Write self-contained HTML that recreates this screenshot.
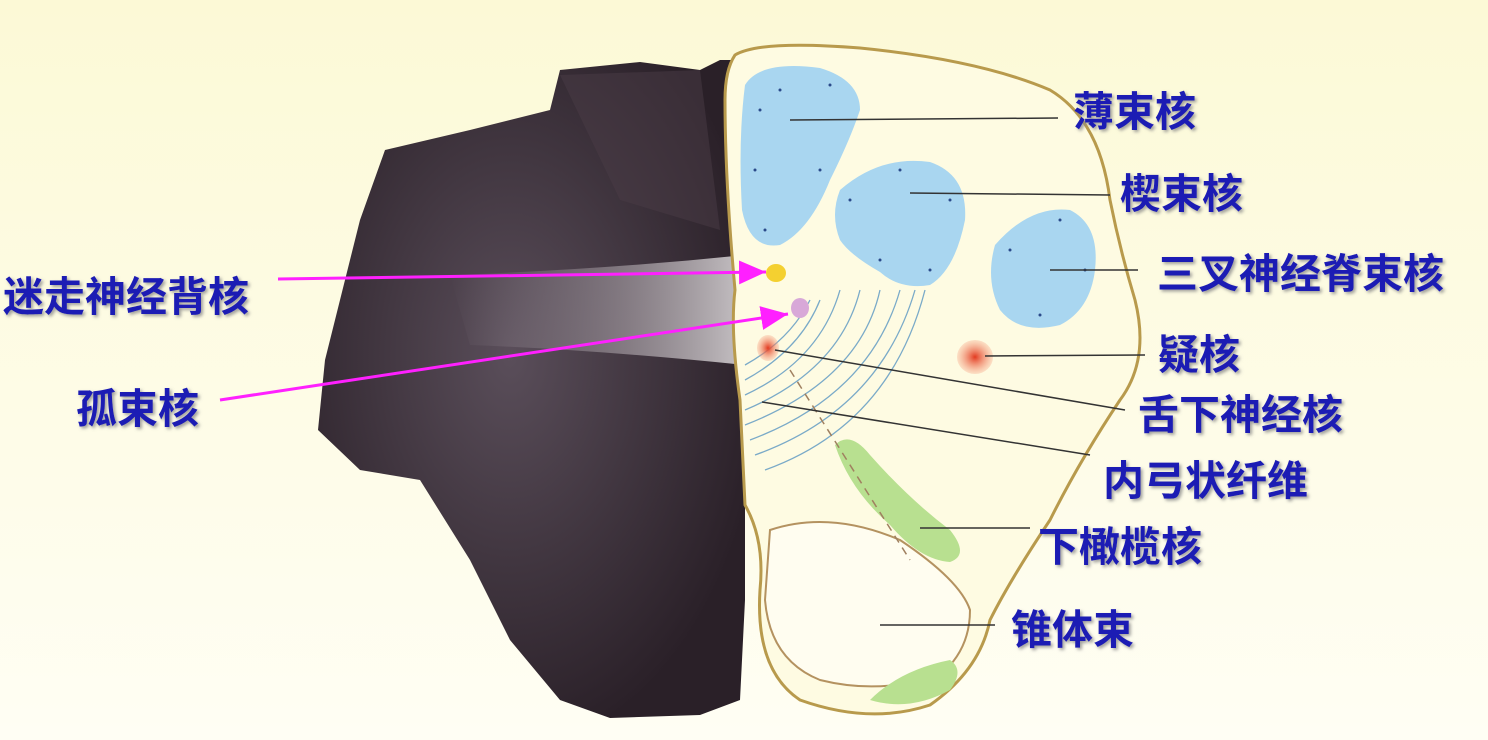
<!DOCTYPE html>
<html><head><meta charset="utf-8"><style>
html,body{margin:0;padding:0;}
body{width:1488px;height:740px;overflow:hidden;background:linear-gradient(#fcf9d6,#fffef4);font-family:"Liberation Sans","Noto Sans CJK SC",sans-serif;}
svg{position:absolute;left:0;top:0}
.lb{font-family:"Liberation Sans","Noto Sans CJK SC",sans-serif;font-weight:bold;font-size:41px;fill:#1a1ab4;}
</style></head><body>
<svg width="1488" height="740" viewBox="0 0 1488 740">
<defs>
<filter id="sh"><feDropShadow dx="2" dy="2" stdDeviation="1.5" flood-color="#888" flood-opacity="0.8"/></filter>
<radialGradient id="tis" cx="0.45" cy="0.45" r="0.6"><stop offset="0" stop-color="#5a4e5a"/><stop offset="1" stop-color="#2a2028"/></radialGradient>
<linearGradient id="band" x1="0" x2="1"><stop offset="0" stop-color="#9a909a" stop-opacity="0"/><stop offset="0.6" stop-color="#b0a8ae" stop-opacity="0.6"/><stop offset="1" stop-color="#d8d4d6" stop-opacity="0.9"/></linearGradient>
<radialGradient id="red"><stop offset="0" stop-color="#e23a20"/><stop offset="1" stop-color="#f6a080" stop-opacity="0.3"/></radialGradient>
<marker id="ar" markerWidth="10" markerHeight="10" refX="9" refY="5" orient="auto"><path d="M0,1 L9,5 L0,9 Z" fill="#ff20ff"/></marker>
</defs>
<path d="M745,60 L720,60 L700,70 L640,62 L560,70 L550,110 L470,130 L385,150 L360,220 L345,280 L325,360 L318,430 L360,470 L420,480 L470,560 L510,640 L560,700 L610,718 L700,715 L740,700 L745,600 Z" fill="url(#tis)"/>
<path d="M450,275 Q600,270 745,255 L745,365 Q600,350 470,345 Z" fill="url(#band)"/>
<path d="M560,75 L700,70 L720,230 L620,200 Z" fill="#4a3c45" opacity="0.5"/>
<path d="M735,55 Q760,40 860,48 Q980,60 1050,90 Q1100,120 1110,200 Q1120,250 1135,300 Q1150,360 1120,400 Q1080,460 1050,520 Q1010,580 990,620 Q980,670 930,705 Q870,725 800,700 Q755,670 760,590 Q765,540 745,505 L740,400 Q730,330 735,290 Q725,180 725,100 Q725,70 735,55 Z" fill="#fefbe2" stroke="#b89a4c" stroke-width="3"/>
<path d="M770,530 Q830,510 900,540 Q960,580 970,610 Q970,650 940,675 Q880,695 820,680 Q770,660 765,600 Z" fill="#fffdf0" stroke="#b49260" stroke-width="2"/>
<path d="M745,85 Q760,60 820,68 Q860,80 860,110 Q850,140 830,180 Q810,230 780,245 Q750,250 742,210 Q738,140 745,85 Z" fill="#a9d6f0"/>
<path d="M840,190 Q880,155 930,162 Q968,175 965,220 Q955,270 930,285 Q900,290 880,272 Q850,255 840,240 Q830,215 840,190 Z" fill="#a9d6f0"/>
<path d="M995,245 Q1030,205 1070,210 Q1100,225 1095,270 Q1090,310 1060,325 Q1020,335 1000,310 Q985,280 995,245 Z" fill="#a9d6f0"/>
<g fill="#2a4a8a">
<circle cx="760" cy="110" r="1.5"/><circle cx="780" cy="90" r="1.5"/><circle cx="830" cy="85" r="1.5"/><circle cx="755" cy="170" r="1.5"/><circle cx="765" cy="230" r="1.5"/><circle cx="820" cy="170" r="1.5"/>
<circle cx="850" cy="200" r="1.5"/><circle cx="900" cy="170" r="1.5"/><circle cx="950" cy="200" r="1.5"/><circle cx="930" cy="270" r="1.5"/><circle cx="880" cy="260" r="1.5"/>
<circle cx="1010" cy="250" r="1.5"/><circle cx="1060" cy="220" r="1.5"/><circle cx="1085" cy="270" r="1.5"/><circle cx="1040" cy="315" r="1.5"/>
</g>
<g stroke="#7aaac8" stroke-width="1.3" fill="none">
<path d="M745,380 Q800,350 820,300"/><path d="M745,395 Q820,360 840,290"/><path d="M745,410 Q840,370 860,290"/><path d="M745,425 Q860,380 880,290"/><path d="M750,440 Q870,395 900,290"/><path d="M755,455 Q880,410 915,290"/><path d="M765,470 Q890,425 925,290"/><path d="M745,365 Q790,340 810,300"/>
</g>
<ellipse cx="776" cy="273" rx="10" ry="9" fill="#f4d030"/>
<ellipse cx="800" cy="308" rx="9" ry="10" fill="#d8a8d8"/>
<ellipse cx="768" cy="348" rx="11" ry="13" fill="url(#red)"/>
<ellipse cx="975" cy="357" rx="18" ry="17" fill="url(#red)"/>
<path d="M835,445 Q850,430 870,455 Q910,500 950,530 Q970,555 950,562 Q920,560 890,525 Q850,490 835,445 Z" fill="#b8e090"/>
<path d="M870,700 Q900,670 950,660 Q965,670 950,690 Q910,712 870,700 Z" fill="#b8e090"/>
<path d="M790,370 L910,560" stroke="#a08060" stroke-width="1.5" stroke-dasharray="8,6" fill="none"/>
<g stroke="#333" stroke-width="1.5">
<line x1="790" y1="120" x2="1058" y2="118"/>
<line x1="910" y1="193" x2="1110" y2="195"/>
<line x1="1050" y1="270" x2="1138" y2="270"/>
<line x1="985" y1="356" x2="1145" y2="355"/>
<line x1="775" y1="350" x2="1125" y2="410"/>
<line x1="762" y1="402" x2="1090" y2="455"/>
<line x1="920" y1="528" x2="1030" y2="528"/>
<line x1="880" y1="625" x2="995" y2="625"/>
</g>
<g stroke="#ff20ff" stroke-width="3" marker-end="url(#ar)">
<line x1="278" y1="279" x2="766" y2="272"/>
<line x1="220" y1="400" x2="788" y2="314"/>
</g>
<g class="lb" filter="url(#sh)">
<text class="lb" x="1073" y="126">薄束核</text>
<text class="lb" x="1120" y="208">楔束核</text>
<text class="lb" x="1157" y="288">三叉神经脊束核</text>
<text class="lb" x="1158" y="369">疑核</text>
<text class="lb" x="1138" y="429">舌下神经核</text>
<text class="lb" x="1103" y="495">内弓状纤维</text>
<text class="lb" x="1038" y="561">下橄榄核</text>
<text class="lb" x="1011" y="644">锥体束</text>
<text class="lb" x="3" y="311">迷走神经背核</text>
<text class="lb" x="76" y="423">孤束核</text>
</g>
</svg>
</body></html>
